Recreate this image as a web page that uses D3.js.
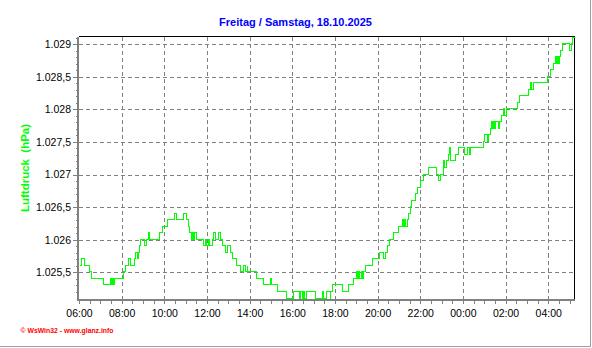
<!DOCTYPE html>
<html>
<head>
<meta charset="utf-8">
<script src="https://cdn.jsdelivr.net/npm/d3@7"></script>
<style>
  body { margin: 0; background: #fff; }
  svg { display: block; font-family: "Liberation Sans", Arial, sans-serif; }
</style>
</head>
<body>
<svg id="chart" width="592" height="348"></svg>
<script>
// Luftdruck readings (hPa), one entry each time the value changes (step data)
var times = [
  "06:00","06:07","06:13","06:28","06:34","07:07","07:27","07:30","07:33","07:35",
  "07:39","08:03","08:09","08:19","08:23","08:35","08:38","08:43","08:46","08:49",
  "08:52","09:02","09:08","09:13","09:16","09:45","09:53","10:08","10:28","10:32",
  "10:52","11:02","11:06","11:09","11:14","11:17","11:20","11:24","11:28","11:48",
  "11:54","11:58","12:03","12:05","12:15","12:17","12:22","12:30","12:36","12:41",
  "12:52","12:57","13:04","13:11","13:21","13:32","13:42","13:46","13:52","13:54",
  "14:17","14:38","14:57","15:01","15:16","15:41","16:03","16:19","16:22","16:26",
  "16:29","16:32","16:40","17:05","17:23","17:27","17:36","17:45","17:47","17:53",
  "18:20","18:37","18:51","18:58","19:02","19:05","19:09","19:12","19:17","19:20",
  "19:24","19:45","20:05","20:15","20:20","20:26","20:33","20:44","20:58","21:09",
  "21:11","21:15","21:18","21:23","21:25","21:30","21:35","21:46","21:51","22:00",
  "22:08","22:21","22:44","22:51","22:56","23:03","23:05","23:08","23:12","23:18",
  "23:22","23:24","23:38","23:46","00:02","00:11","00:16","00:20","00:56","01:00",
  "01:07","01:12","01:15","01:18","01:21","01:26","01:28","01:31","01:40","01:43",
  "01:47","01:54","01:57","02:01","02:33","02:38","03:02","03:09","03:12","03:16",
  "03:58","04:05","04:14","04:19","04:22","04:24","04:27","04:29","04:33","04:40",
  "04:59","05:03","05:06","05:14"
];
var values = [
  1025.6,1025.7,1025.6,1025.5,1025.4,1025.3,1025.4,1025.3,1025.4,1025.3,
  1025.4,1025.5,1025.6,1025.7,1025.6,1025.7,1025.8,1025.7,1025.8,1025.9,
  1026.0,1025.9,1026.0,1026.1,1026.0,1026.1,1026.2,1026.3,1026.4,1026.3,
  1026.4,1026.3,1026.2,1026.1,1026.0,1026.1,1026.0,1026.1,1026.0,1025.9,
  1026.0,1025.9,1026.0,1025.9,1026.0,1026.1,1026.0,1026.1,1026.0,1025.9,
  1025.8,1025.9,1025.8,1025.7,1025.6,1025.5,1025.6,1025.5,1025.6,1025.5,
  1025.4,1025.3,1025.4,1025.3,1025.2,1025.1,1025.2,1025.1,1025.2,1025.1,
  1025.2,1025.1,1025.2,1025.1,1025.2,1025.1,1025.2,1025.1,1025.2,1025.3,
  1025.2,1025.3,1025.4,1025.5,1025.4,1025.5,1025.4,1025.5,1025.4,1025.5,
  1025.6,1025.7,1025.8,1025.7,1025.8,1025.9,1026.0,1026.1,1026.2,1026.3,
  1026.2,1026.3,1026.2,1026.3,1026.4,1026.5,1026.6,1026.7,1026.8,1026.9,
  1027.0,1027.1,1027.0,1026.9,1027.0,1027.1,1027.2,1027.1,1027.2,1027.3,
  1027.4,1027.2,1027.3,1027.4,1027.3,1027.4,1027.3,1027.4,1027.5,1027.6,
  1027.5,1027.6,1027.7,1027.8,1027.7,1027.8,1027.7,1027.8,1027.7,1027.8,
  1027.9,1028.0,1027.9,1028.0,1028.1,1028.2,1028.3,1028.4,1028.3,1028.4,
  1028.5,1028.6,1028.7,1028.8,1028.7,1028.8,1028.7,1028.8,1028.9,1029.0,
  1028.9,1029.0,1029.1,1029.1
];
var yTicks = [1025.5, 1026, 1026.5, 1027, 1027.5, 1028, 1028.5, 1029];
var xTicks = ["06:00","08:00","10:00","12:00","14:00","16:00","18:00","20:00","22:00","00:00","02:00","04:00"];
var yDomain = [1025.1, 1029.1];
var startDay = "17.10.2025";
var title = "Freitag / Samstag, 18.10.2025";
var yLabel = "Luftdruck  (hPa)";
var footer = "\u00a9 WsWin32 - www.glanz.info";

// box of the plot
var plot = { left: 79, right: 574.5, top: 36.5, bottom: 298.5 };

var parseDay = d3.timeParse("%d.%m.%Y %H:%M");
// times before 06:00 belong to the next day
function toDate(hm) {
    var d = parseDay(startDay + " " + hm);
    if (d.getHours() < 6) d = d3.timeDay.offset(d, 1);
    return d;
}

var data = times.map((t, i) => ({ date: toDate(t), value: values[i] }));

var de = d3.formatLocale({ decimal: ",", thousands: ".", grouping: [3], currency: ["", " €"] });
var yFormat = de.format(",.1~f");

var x = d3.scaleTime()
    .domain([toDate("06:00"), toDate("05:14")])
    .range([plot.left, plot.right]);
var y = d3.scaleLinear().domain(yDomain).range([plot.bottom, plot.top + 1]);

var svg = d3.select("#chart");

// outer frame (only right and bottom edges visible)
svg.append("rect")
    .attr("x", -2).attr("y", -2)
    .attr("width", 592.5).attr("height", 348.5)
    .attr("fill", "#fff")
    .attr("stroke", "#a0a0a0");

// grid
var grid = svg.append("g")
    .attr("stroke", "#808080")
    .attr("stroke-dasharray", "4,3")
    .attr("shape-rendering", "crispEdges");
grid.selectAll(".h").data(yTicks).enter().append("line")
    .attr("x1", plot.left).attr("x2", plot.right)
    .attr("y1", d => Math.round(y(d)) + 0.5).attr("y2", d => Math.round(y(d)) + 0.5);
grid.selectAll(".v").data(xTicks.slice(1)).enter().append("line")
    .attr("y1", plot.top).attr("y2", plot.bottom)
    .attr("x1", d => Math.round(x(toDate(d))) + 0.5).attr("x2", d => Math.round(x(toDate(d))) + 0.5);

// top and right border
svg.append("path")
    .attr("d", `M${plot.left},${plot.top}H${plot.right}V${plot.bottom + 1}`)
    .attr("fill", "none")
    .attr("stroke", "#000")
    .attr("shape-rendering", "crispEdges");

// x axis: ticks every 30 minutes, labels every 2 hours
var labelSet = new Set(xTicks);
var xAxis = d3.axisBottom(x)
    .ticks(d3.timeMinute.every(30))
    .tickSize(4)
    .tickPadding(6)
    .tickFormat(d => {
        var s = d3.timeFormat("%H:%M")(d);
        return labelSet.has(s) ? s : "";
    });
var gx = svg.append("g")
    .attr("transform", `translate(0,${plot.bottom + 1})`)
    .call(xAxis);
gx.select(".domain").remove();
gx.selectAll("line").attr("stroke", "#808080").attr("shape-rendering", "crispEdges");
gx.selectAll("text").attr("font-size", "10.5px").attr("fill", "#000").attr("font-family", null);

// y axis: minor ticks every 0.1 hPa, labels every 0.5 hPa
var minor = d3.range(1025.2, 1029.15, 0.1).map(v => Math.round(v * 10) / 10);
var gyMinor = svg.append("g")
    .attr("transform", `translate(${plot.left - 1},0)`)
    .call(d3.axisLeft(y).tickValues(minor).tickSize(2).tickFormat(""));
gyMinor.select(".domain").remove();
gyMinor.selectAll("line").attr("stroke", "#808080").attr("shape-rendering", "crispEdges");

var gy = svg.append("g")
    .attr("transform", `translate(${plot.left - 1},0)`)
    .call(d3.axisLeft(y).tickValues(yTicks).tickSize(5).tickPadding(2).tickFormat(yFormat));
gy.select(".domain").remove();
gy.selectAll("line").attr("stroke", "#808080").attr("shape-rendering", "crispEdges");
gy.selectAll("text").attr("font-size", "10.5px").attr("fill", "#000").attr("font-family", null);

// thick gray axis lines
svg.append("path")
    .attr("d", `M${plot.left - 1},${plot.top}V${plot.bottom + 1}H${plot.right}`)
    .attr("fill", "none")
    .attr("stroke", "#808080")
    .attr("stroke-width", 2)
    .attr("shape-rendering", "crispEdges");

// pressure line
svg.append("clipPath").attr("id", "clip")
    .append("rect")
    .attr("x", plot.left).attr("y", plot.top - 1)
    .attr("width", plot.right - plot.left + 1).attr("height", plot.bottom - plot.top + 2);

// snap to pixel centres so the 1px line stays sharp
var line = d3.line()
    .x(d => Math.round(x(d.date)) + 0.5)
    .y(d => Math.round(y(d.value)) - 0.5)
    .curve(d3.curveStepAfter);

svg.append("path")
    .datum(data)
    .attr("clip-path", "url(#clip)")
    .attr("d", line)
    .attr("fill", "none")
    .attr("stroke", "#00ff00")
    .attr("stroke-width", 1)
    .attr("shape-rendering", "crispEdges");

// texts
svg.append("text")
    .attr("x", 295.5).attr("y", 26)
    .attr("text-anchor", "middle")
    .attr("font-size", "11px")
    .attr("font-weight", "bold")
    .attr("fill", "#0000ff")
    .text(title);

svg.append("text")
    .attr("transform", "translate(28.5,168) rotate(-90)")
    .attr("text-anchor", "middle")
    .attr("font-size", "11.5px")
    .attr("font-weight", "bold")
    .attr("fill", "#00ff00")
    .style("white-space", "pre")
    .text(yLabel);

svg.append("text")
    .attr("x", 20.5).attr("y", 333)
    .attr("font-size", "7px")
    .attr("font-weight", "bold")
    .attr("fill", "#ff0000")
    .attr("textLength", 93)
    .attr("lengthAdjust", "spacingAndGlyphs")
    .text(footer);
</script>
</body>
</html>
